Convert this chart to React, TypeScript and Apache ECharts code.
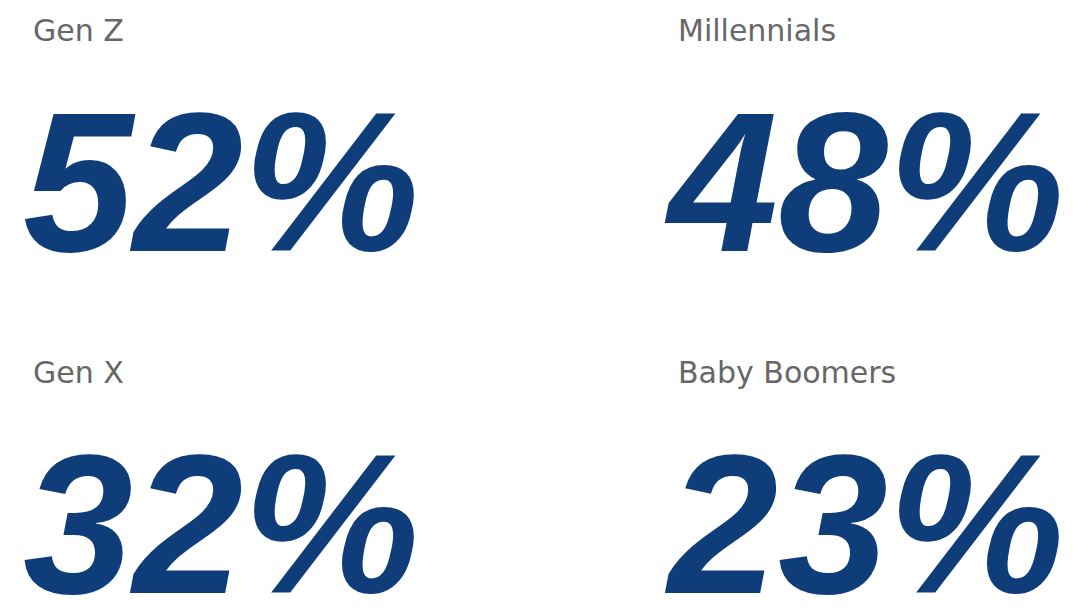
import React, { useEffect, useRef } from "react";
import * as echarts from "echarts";

const categories = ["Gen Z", "Millennials", "Gen X", "Baby Boomers"];
const values = [52, 48, 32, 23];
const columns = ["left", "right"];
const rows = ["top", "bottom"];
const columnOf = [0, 1, 0, 1];
const rowOf = [0, 0, 1, 1];

export default function App() {
  const ref = useRef<HTMLDivElement>(null);
  useEffect(() => {
    document.body.style.margin = "0";
    const chart = echarts.init(ref.current!, null, { renderer: "svg" });
    const points = categories.map((c, i) => ({
      name: c,
      value: [columns[columnOf[i]], rows[rowOf[i]], values[i]],
    }));
    chart.setOption({
      animation: false,
      backgroundColor: "#ffffff",
      grid: { left: 33, right: 414, top: 30, bottom: 241 },
      xAxis: { type: "category", data: columns, boundaryGap: false, show: false },
      yAxis: { type: "category", data: rows, inverse: true, boundaryGap: false, show: false },
      series: [
        {
          type: "scatter",
          symbolSize: 0,
          itemStyle: { opacity: 1 },
          data: points,
          label: {
            show: true,
            position: "right",
            distance: 0,
            formatter: "{b}",
            fontFamily: "DejaVu Sans",
            fontSize: 30,
            color: "#676767",
            opacity: 1,
          },
        },
        {
          type: "scatter",
          symbolSize: 0,
          itemStyle: { opacity: 1 },
          data: points,
          label: {
            show: true,
            position: "right",
            distance: 0,
            offset: [-10, 152],
            formatter: (p: any) => `${p.value[2]}%`,
            fontFamily: "Liberation Sans",
            fontStyle: "italic",
            fontWeight: "bold",
            fontSize: 198,
            lineHeight: 150,
            color: "#0f3d7a",
            opacity: 1,
          },
        },
      ],
    });
    return () => chart.dispose();
  }, []);
  return <div ref={ref} style={{ width: 1092, height: 613 }} />;
}
